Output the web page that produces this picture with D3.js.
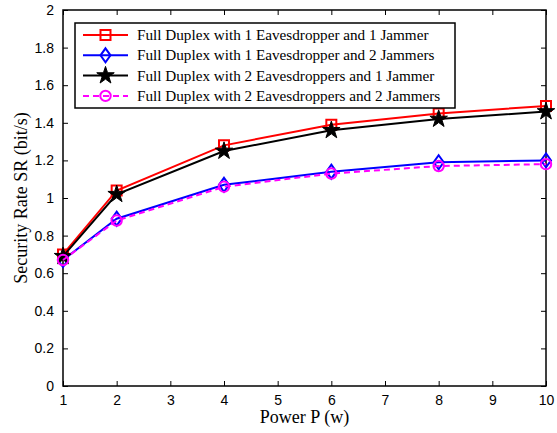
<!DOCTYPE html>
<html>
<head>
<meta charset="utf-8">
<script src="https://cdn.jsdelivr.net/npm/d3@7"></script>
<style>
	body { margin: 0; background: #fff; }
	svg { display: block; }
</style>
</head>
<body>
<script>
var power = [1, 2, 4, 6, 8, 10];
var sr1E1J = [0.70, 1.04, 1.28, 1.39, 1.45, 1.49];
var sr1E2J = [0.67, 0.89, 1.07, 1.14, 1.19, 1.20];
var sr2E1J = [0.69, 1.02, 1.25, 1.36, 1.42, 1.46];
var sr2E2J = [0.67, 0.88, 1.06, 1.13, 1.17, 1.18];
var seriesNames = [
	"Full Duplex with 1 Eavesdropper and 1 Jammer",
	"Full Duplex with 1 Eavesdropper and 2 Jammers",
	"Full Duplex with 2 Eavesdroppers and 1 Jammer",
	"Full Duplex with 2 Eavesdroppers and 2 Jammers"
];
var xTicks = [1, 2, 3, 4, 5, 6, 7, 8, 9, 10];
var yTicks = [0, 0.2, 0.4, 0.6, 0.8, 1, 1.2, 1.4, 1.6, 1.8, 2];

var width = 557, height = 433,
	plotLeft = 63, plotRight = 546, plotTop = 10, plotBottom = 386;

var series = [
	{ name: seriesNames[0], values: sr1E1J, color: "#ff0000", marker: "square", dash: null },
	{ name: seriesNames[1], values: sr1E2J, color: "#0000ff", marker: "diamond", dash: null },
	{ name: seriesNames[2], values: sr2E1J, color: "#000000", marker: "star", dash: null },
	{ name: seriesNames[3], values: sr2E2J, color: "#ff00ff", marker: "circle", dash: "6,4" }
];

var svg = d3.select("body").append("svg")
	.attr("width", width)
	.attr("height", height);

var x = d3.scaleLinear().domain([1, 10]).range([plotLeft, plotRight]);
var y = d3.scaleLinear().domain([0, 2]).range([plotBottom, plotTop]);

// axes - ticks pointing inward, MATLAB style
var fmt = function(d) { return d3.format("~g")(d); };
var axisStyle = function(g) {
	g.selectAll("path").remove();
	g.selectAll("line").attr("stroke", "#000");
	g.selectAll("text")
		.attr("font-family", "Liberation Sans, Arial, sans-serif")
		.attr("font-size", "14px")
		.attr("fill", "#000");
};

svg.append("g")
	.attr("transform", "translate(0," + plotBottom + ")")
	.call(d3.axisBottom(x).tickValues(xTicks).tickFormat(fmt).tickSizeInner(-5).tickPadding(9))
	.call(axisStyle);
svg.append("g")
	.attr("transform", "translate(0," + plotTop + ")")
	.call(d3.axisTop(x).tickValues(xTicks).tickFormat("").tickSizeInner(-5))
	.call(axisStyle);
svg.append("g")
	.attr("transform", "translate(" + plotLeft + ",0)")
	.call(d3.axisLeft(y).tickValues(yTicks).tickFormat(fmt).tickSizeInner(-5).tickPadding(9))
	.call(axisStyle);
svg.append("g")
	.attr("transform", "translate(" + plotRight + ",0)")
	.call(d3.axisRight(y).tickValues(yTicks).tickFormat("").tickSizeInner(-5))
	.call(axisStyle);

svg.append("rect")
	.attr("x", plotLeft).attr("y", plotTop)
	.attr("width", plotRight - plotLeft).attr("height", plotBottom - plotTop)
	.attr("fill", "none").attr("stroke", "#000").attr("stroke-width", 1.5);

// marker shapes
function markerPath(type) {
	if (type === "square") return "M-5,-5H5V5H-5Z";
	if (type === "diamond") return "M0,-7L5,0L0,7L-5,0Z";
	if (type === "circle") return d3.symbol().type(d3.symbolCircle).size(85)();
	return d3.symbol().type(d3.symbolStar).size(95)();
}

function drawMarker(g, s, px, py) {
	g.append("path")
		.attr("d", markerPath(s.marker))
		.attr("transform", "translate(" + px + "," + py + ")")
		.attr("fill", s.marker === "star" ? s.color : "none")
		.attr("stroke", s.color)
		.attr("stroke-width", s.marker === "star" ? 1 : 2);
}

var line = d3.line()
	.x(function(d, i) { return x(power[i]); })
	.y(function(d) { return y(d); });

series.forEach(function(s) {
	var g = svg.append("g");
	g.append("path")
		.datum(s.values)
		.attr("d", line)
		.attr("fill", "none")
		.attr("stroke", s.color)
		.attr("stroke-width", 2)
		.attr("stroke-dasharray", s.dash);
	s.values.forEach(function(v, i) {
		drawMarker(g, s, x(power[i]), y(v));
	});
});

// legend
var legend = svg.append("g");
legend.append("rect")
	.attr("x", 75).attr("y", 23)
	.attr("width", 380).attr("height", 85)
	.attr("fill", "#fff").attr("stroke", "#000").attr("stroke-width", 1.5);

series.forEach(function(s, i) {
	var ly = 35 + i * 20.3;
	legend.append("line")
		.attr("x1", 83).attr("x2", 128)
		.attr("y1", ly).attr("y2", ly)
		.attr("stroke", s.color).attr("stroke-width", 2)
		.attr("stroke-dasharray", s.dash);
	drawMarker(legend, s, 105.5, ly);
	legend.append("text")
		.attr("x", 137).attr("y", ly + 5)
		.attr("font-family", "Liberation Serif, Times New Roman, serif")
		.attr("font-size", "15.2px")
		.text(s.name);
});

// axis labels
svg.append("text")
	.attr("x", (plotLeft + plotRight) / 2).attr("y", 423)
	.attr("text-anchor", "middle")
	.attr("font-family", "Liberation Serif, Times New Roman, serif")
	.attr("font-size", "18px")
	.text("Power P (w)");

svg.append("text")
	.attr("transform", "translate(27," + ((plotTop + plotBottom) / 2) + ") rotate(-90)")
	.attr("text-anchor", "middle")
	.attr("font-family", "Liberation Serif, Times New Roman, serif")
	.attr("font-size", "18px")
	.text("Security Rate SR (bit/s)");
</script>
</body>
</html>
